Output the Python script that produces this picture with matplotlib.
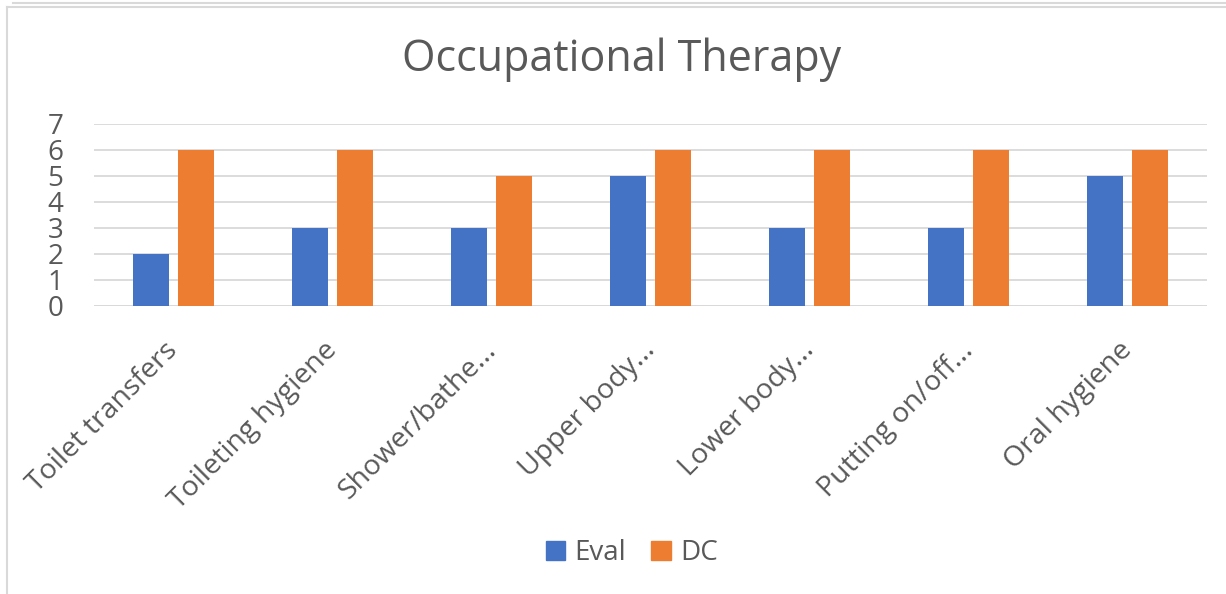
import matplotlib.pyplot as plt
from matplotlib.lines import Line2D
import numpy as np

# data
categories = ["Toilet transfers", "Toileting hygiene", "Shower/bathe...", "Upper body...",
              "Lower body...", "Putting on/off...", "Oral hygiene"]
eval_scores = [2, 3, 3, 5, 3, 3, 5]
dc_scores = [6, 6, 5, 6, 6, 6, 6]
y_ticks = [0, 1, 2, 3, 4, 5, 6, 7]

blue = "#4472C4"
orange = "#ED7D31"
text_col = "#595959"
grid_col = "#D9D9D9"

plt.rcParams['font.family'] = ['Open Sans', 'DejaVu Sans']

fig = plt.figure(figsize=(12.26, 5.94), dpi=100)
W, H = 1226, 594
# plot area in pixels: x 94..1207, y 124..306
ax = fig.add_axes([94 / W, 1 - 306 / H, (1207 - 94) / W, (306 - 124) / H])

x = np.arange(len(categories))
bw = 0.226
off = 0.144
ax.bar(x - off, eval_scores, bw, color=blue, label="Eval", zorder=3)
ax.bar(x + off, dc_scores, bw, color=orange, label="DC", zorder=3)

ax.set_xlim(-0.5, len(categories) - 0.5)
ax.set_ylim(0, 7)
ax.set_yticks(y_ticks)
ax.set_yticklabels([str(t) for t in y_ticks], fontsize=20, color=text_col)
ax.yaxis.grid(True, color=grid_col, lw=1.3, zorder=0)
ax.tick_params(axis='y', length=0, pad=22)
ax.tick_params(axis='x', length=0)
for s in ax.spines.values():
    s.set_visible(False)
ax.axhline(0, color=grid_col, lw=1.3, zorder=2)

ax.set_xticks(x)
ax.set_xticklabels([])
for i, lab in enumerate(categories):
    ax.annotate(lab, xy=(i - 0.06, 0), xycoords=('data', 'axes fraction'),
                xytext=(0, -22), textcoords='offset points',
                rotation=45, ha='right', va='top', rotation_mode='anchor',
                fontsize=20.5, color=text_col)

fig.text(622 / W, 1 - 60 / H, "Occupational Therapy", ha='center', va='center',
         fontsize=31, color=text_col)

handles = [plt.Rectangle((0, 0), 1, 1, color=blue), plt.Rectangle((0, 0), 1, 1, color=orange)]
fig.legend(handles, ["Eval", "DC"], loc='center', bbox_to_anchor=(632 / W, 1 - 553 / H),
           ncol=2, frameon=False, fontsize=20, labelcolor=text_col,
           handlelength=0.7, handleheight=0.7, handletextpad=0.35, columnspacing=0.9)

# outer frame of the screenshot
fig.add_artist(Line2D([7 / W, 7 / W], [0, 1 - 7 / H], transform=fig.transFigure, color="#D9D9D9", lw=1.5))
fig.add_artist(Line2D([7 / W, 1], [1 - 7 / H, 1 - 7 / H], transform=fig.transFigure, color="#D9D9D9", lw=1.5))
fig.add_artist(Line2D([13 / W, 1], [1 - 3 / H, 1 - 3 / H], transform=fig.transFigure, color="#D9D9D9", lw=1.5))

fig.savefig("out.png", dpi=100)
